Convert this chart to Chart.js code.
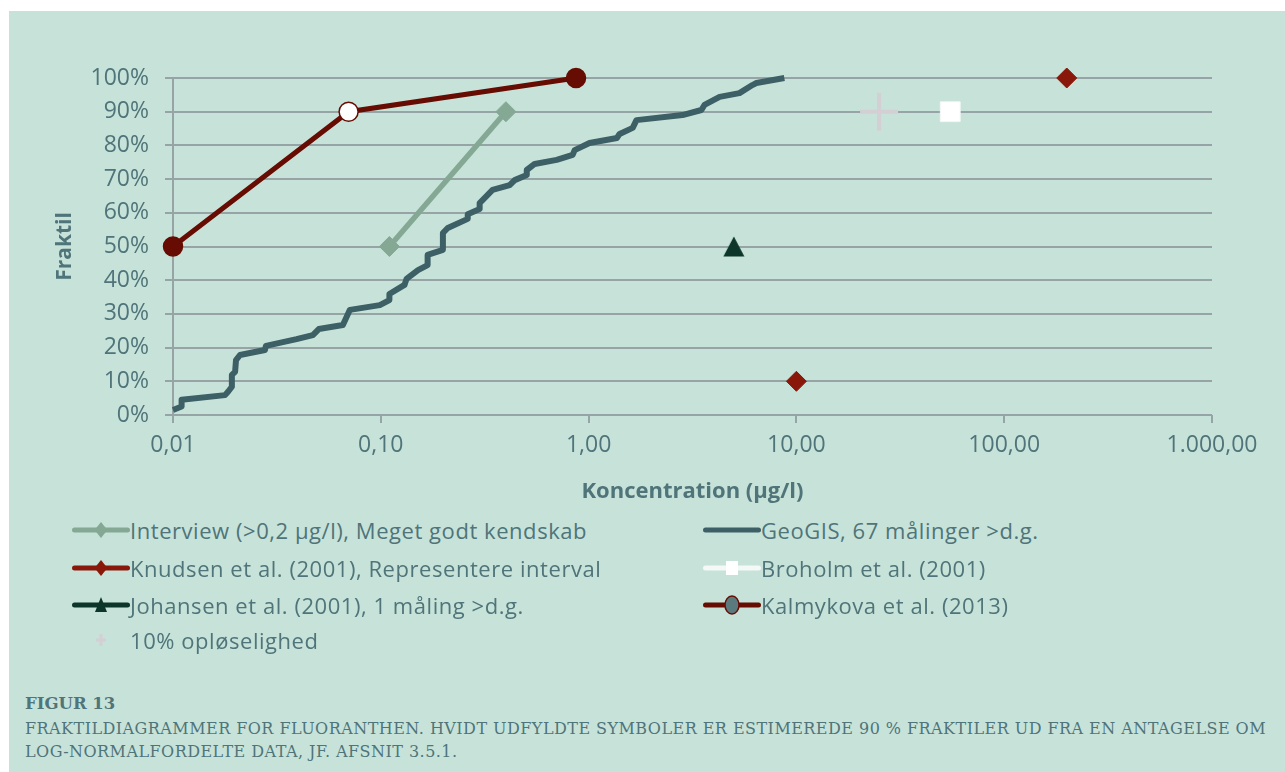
<!DOCTYPE html>
<html><head><meta charset="utf-8">
<script src="https://cdn.jsdelivr.net/npm/chart.js@4.4.1/dist/chart.umd.min.js"></script>
<style>
html,body{margin:0;padding:0;background:#fff;width:1285px;height:772px;overflow:hidden;position:relative;}
#bg{position:absolute;left:9px;top:11px;width:1276px;height:761px;background:#c7e3d9;}
#wrap{position:absolute;left:0;top:0;width:1285px;height:510px;}
.li{position:absolute;height:30px;display:flex;align-items:center;font-family:'Open Sans';font-size:22px;letter-spacing:0.55px;color:#4f7479;white-space:nowrap;}
.cap{position:absolute;left:25px;font-family:'DejaVu Serif';color:#4f7479;white-space:nowrap;line-height:20px;}
</style></head><body>
<div id="bg"></div>
<div id="wrap"><canvas id="c"></canvas></div>
<div id="legend"></div>
<div class="cap" id="cap0" style="top:694px;font-weight:bold;font-size:16.5px">FIGUR 13</div>
<div class="cap" id="cap1" style="top:719px;font-size:16px">FRAKTILDIAGRAMMER FOR FLUORANTHEN. HVIDT UDFYLDTE SYMBOLER ER ESTIMEREDE 90 % FRAKTILER UD FRA EN ANTAGELSE OM</div>
<div class="cap" id="cap2" style="top:742px;font-size:16px">LOG-NORMALFORDELTE DATA, JF. AFSNIT 3.5.1.</div>
<script>
// ---- data ----
const xTickValues = [0.01, 0.1, 1, 10, 100, 1000];
const xTickLabels = ['0,01', '0,10', '1,00', '10,00', '100,00', '1.000,00'];
const yTickValues = [0, 10, 20, 30, 40, 50, 60, 70, 80, 90, 100];
const yTickLabels = ['0%', '10%', '20%', '30%', '40%', '50%', '60%', '70%', '80%', '90%', '100%'];

const interviewX = [0.11, 0.40];
const interviewY = [50, 90];

const geoX = [0.010, 0.011, 0.011, 0.0178, 0.0184, 0.0192, 0.0192, 0.0199, 0.0201, 0.0210, 0.0277, 0.0280, 0.0393, 0.0471, 0.0503, 0.0657, 0.0710, 0.0989, 0.110, 0.110, 0.130, 0.133, 0.151, 0.168, 0.168, 0.199, 0.199, 0.210, 0.262, 0.262, 0.299, 0.299, 0.345, 0.417, 0.441, 0.504, 0.504, 0.550, 0.702, 0.838, 0.857, 1.01, 1.37, 1.41, 1.63, 1.70, 2.83, 3.49, 3.61, 4.27, 5.32, 6.14, 6.42, 8.75];
const geoY = [1.5, 2.5, 4.5, 5.9, 6.9, 8.4, 11.9, 12.8, 16.3, 17.8, 19.3, 20.5, 22.5, 23.7, 25.5, 26.7, 31.2, 32.6, 34.1, 35.9, 38.6, 40.4, 43.0, 44.5, 47.5, 49.0, 54.0, 55.5, 58.2, 59.6, 61.1, 62.9, 66.8, 68.2, 69.7, 71.2, 72.7, 74.5, 75.7, 77.2, 78.6, 80.7, 82.2, 83.4, 85.2, 87.5, 89.0, 90.5, 92.0, 94.4, 95.5, 97.9, 98.5, 100];

const knudsenX = [10, 200];
const knudsenY = [10, 100];

const broholmX = [55];
const broholmY = [90];

const johansenX = [5];
const johansenY = [50];

const kalmykovaX = [0.01, 0.07, 0.87];
const kalmykovaY = [50, 90, 100];

const oploeselighedX = [25];
const oploeselighedY = [90];

const seriesNames = [
  'Interview (>0,2 µg/l), Meget godt kendskab',
  'GeoGIS, 67 målinger >d.g.',
  'Knudsen et al. (2001), Representere interval',
  'Broholm et al. (2001)',
  'Johansen et al. (2001), 1 måling >d.g.',
  'Kalmykova et al. (2013)',
  '10% opløselighed'
];

// ---- styles ----
const TXT = '#4f7479';
const GRID = '#97a4a6';
const C_INT = '#84a894';
const C_GEO = '#3d5f66';
const C_KNU = '#8a180a';
const C_JOH = '#0c362a';
const C_KAL = '#660c03';
const C_OPL = '#d3cfd3';

const pts = (xs, ys) => xs.map((x, i) => ({x: x, y: ys[i]}));

// centred triangle marker (bounding box centred on the point)
const triImg = (function () {
  const c = document.createElement('canvas');
  c.width = 22; c.height = 21;
  const g = c.getContext('2d');
  g.fillStyle = C_JOH;
  g.beginPath(); g.moveTo(11, 0.5); g.lineTo(21.5, 20.5); g.lineTo(0.5, 20.5); g.closePath(); g.fill();
  return c;
})();

const datasets = [
  {label: seriesNames[1], data: pts(geoX, geoY), borderColor: C_GEO, borderWidth: 6, pointRadius: 0, borderJoinStyle: 'round', borderCapStyle: 'butt', showLine: true, clip: false},
  {label: seriesNames[0], data: pts(interviewX, interviewY), borderColor: C_INT, backgroundColor: C_INT, borderWidth: 5.5, pointStyle: 'rectRot', pointRadius: 10, pointBackgroundColor: C_INT, pointBorderColor: C_INT, pointBorderWidth: 1, showLine: true, clip: false},
  {label: seriesNames[2], data: pts(knudsenX, knudsenY), showLine: false, pointStyle: 'rectRot', pointRadius: 10, pointBackgroundColor: C_KNU, pointBorderColor: C_KNU, pointBorderWidth: 1, clip: false},
  {label: seriesNames[3], data: pts(broholmX, broholmY), showLine: false, pointStyle: 'rect', pointRadius: 14, pointBackgroundColor: '#ffffff', pointBorderColor: '#f4f7f6', pointBorderWidth: 1, clip: false},
  {label: seriesNames[4], data: pts(johansenX, johansenY), showLine: false, pointStyle: triImg, pointRadius: 11, clip: false},
  {label: seriesNames[5], data: pts(kalmykovaX, kalmykovaY), borderColor: C_KAL, borderWidth: 5, showLine: true, pointStyle: 'circle', pointRadius: 9.5, pointBackgroundColor: [C_KAL, '#ffffff', C_KAL], pointBorderColor: C_KAL, pointBorderWidth: 1.5, clip: false},
  {label: seriesNames[6], data: pts(oploeselighedX, oploeselighedY), showLine: false, pointStyle: 'cross', pointRadius: 19, pointBorderColor: C_OPL, pointBorderWidth: 4, clip: false}
];

Chart.defaults.font.family = 'Open Sans';
Chart.defaults.animation = false;

new Chart(document.getElementById('c'), {
  type: 'line',
  data: {datasets: datasets},
  options: {
    responsive: true, maintainAspectRatio: false, animation: false,
    layout: {padding: {left: 0, top: 78, right: 73, bottom: 0}},
    plugins: {legend: {display: false}, tooltip: {enabled: false}},
    elements: {line: {tension: 0}},
    scales: {
      x: {
        type: 'logarithmic', min: 0.01, max: 1000,
        afterBuildTicks: s => { s.ticks = xTickValues.map(v => ({value: v, major: false})); },
        afterFit: s => { s.height = 95; },
        ticks: {callback: (v, i) => xTickLabels[i], color: TXT, font: {size: 23}, padding: 9, maxRotation: 0, autoSkip: false},
        grid: {drawOnChartArea: false, color: GRID, lineWidth: 2, tickLength: 8},
        border: {display: false},
        title: {display: true, text: 'Koncentration (µg/l)', color: TXT, font: {size: 22, weight: 'bold'}, padding: {top: 0, bottom: 5}}
      },
      y: {
        min: 0, max: 100,
        afterBuildTicks: s => { s.ticks = yTickValues.map(v => ({value: v})); },
        afterFit: s => { s.width = 173; },
        ticks: {callback: (v, i) => yTickLabels[i], color: TXT, font: {size: 23}, padding: 16},
        grid: {color: GRID, lineWidth: 2, tickLength: 8},
        border: {display: true, color: GRID, width: 2},
        title: {display: true, text: 'Fraktil', color: TXT, font: {size: 21, weight: 'bold'}, padding: {top: 52, bottom: 0}}
      }
    }
  }
});

// ---- HTML legend ----
function icon(spec) {
  const c = document.createElement('canvas');
  c.width = 58; c.height = 30;
  const g = c.getContext('2d');
  const cx = 29, cy = 15;
  if (spec.line) {
    g.strokeStyle = spec.line; g.lineWidth = 5; g.lineCap = 'round';
    g.beginPath(); g.moveTo(2.5, cy); g.lineTo(55.5, cy); g.stroke();
  }
  g.fillStyle = spec.fill; g.strokeStyle = spec.stroke || spec.fill; g.lineWidth = 1.5;
  g.beginPath();
  if (spec.m === 'diamond') { const r = 8; g.moveTo(cx, cy - r); g.lineTo(cx + r * 0.8, cy); g.lineTo(cx, cy + r); g.lineTo(cx - r * 0.8, cy); g.closePath(); g.fill(); }
  else if (spec.m === 'square') { g.rect(cx - 6, cy - 7, 12, 14); g.fill(); }
  else if (spec.m === 'triangle') { g.moveTo(cx, cy - 8); g.lineTo(cx + 6, cy + 7); g.lineTo(cx - 6, cy + 7); g.closePath(); g.fill(); }
  else if (spec.m === 'circle') { g.ellipse(cx, cy, 7, 9, 0, 0, Math.PI * 2); g.fill(); g.stroke(); }
  else if (spec.m === 'cross') { g.lineWidth = 3; g.moveTo(cx, cy - 6); g.lineTo(cx, cy + 6); g.moveTo(cx - 5, cy); g.lineTo(cx + 5, cy); g.stroke(); }
  return c;
}
const legendSpecs = [
  {name: seriesNames[0], x: 72, y: 530, line: C_INT, m: 'diamond', fill: C_INT},
  {name: seriesNames[2], x: 72, y: 568, line: C_KNU, m: 'diamond', fill: C_KNU},
  {name: seriesNames[4], x: 72, y: 605, line: C_JOH, m: 'triangle', fill: C_JOH},
  {name: seriesNames[6], x: 72, y: 640, line: null, m: 'cross', fill: C_OPL, stroke: C_OPL},
  {name: seriesNames[1], x: 703, y: 530, line: C_GEO, m: null, fill: C_GEO},
  {name: seriesNames[3], x: 703, y: 568, line: '#f4f8f6', m: 'square', fill: '#ffffff'},
  {name: seriesNames[5], x: 703, y: 605, line: C_KAL, m: 'circle', fill: '#5b7a7e', stroke: C_KAL}
];
const lg = document.getElementById('legend');
legendSpecs.forEach(s => {
  const d = document.createElement('div');
  d.className = 'li';
  d.style.left = s.x + 'px';
  d.style.top = (s.y - 15) + 'px';
  d.appendChild(icon(s));
  const t = document.createElement('span');
  t.textContent = s.name;
  d.appendChild(t);
  lg.appendChild(d);
});

// fit caption line 1 width
(function () {
  const l1 = document.getElementById('cap1'), l2 = document.getElementById('cap2');
  const target = 1241;
  const w = l1.getBoundingClientRect().width;
  const n = l1.textContent.length;
  const ls = (target - w) / n;
  l1.style.letterSpacing = ls + 'px';
  l2.style.letterSpacing = ls + 'px';
})();
</script>
</body></html>
